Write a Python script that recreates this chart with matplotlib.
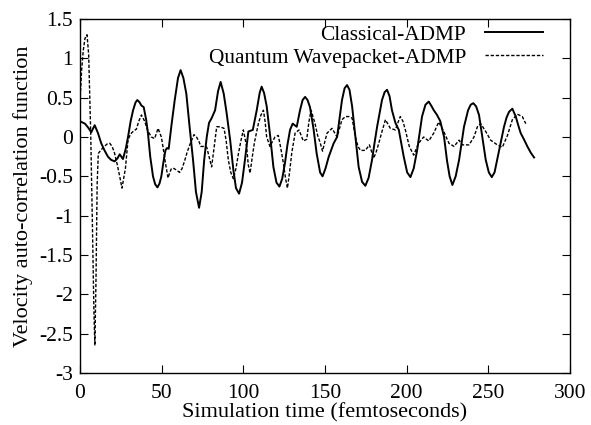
import matplotlib
matplotlib.use("Agg")
import matplotlib.pyplot as plt

plt.rcParams['font.family'] = ['Liberation Serif', 'DejaVu Serif']

# Classical-ADMP (solid)
classical_t = [0, 3, 5, 6.9, 9, 11, 13, 15, 17.1, 19, 21.2, 23, 24.3, 26.3, 28, 29.4, 31, 32.5, 34, 35.1,
               36.5, 37.6, 39, 40.5, 41.6, 43, 44.7, 46, 47.4, 48.7, 49.8, 51, 52.3, 53.3, 54.3, 56, 58, 60,
               61.6, 63.3, 65.1, 67, 69.2, 71, 72.9, 74.5, 76, 77.6, 79, 80.6, 82.7, 84.5, 86.1, 88, 89.8,
               92, 93.9, 95.5, 97.4, 99.2, 101, 103.1, 105.8, 108.2, 110, 111.2, 112.7, 114.3, 116.5, 118.4,
               120.3, 122.1, 123.8, 125.5, 127, 128.6, 130.2, 132.7, 134.7, 136.3, 137.8, 139.3, 140.8, 143,
               144.9, 147, 148.5, 150.3, 152.3, 155.3, 157.4, 159, 160.4, 162, 163.5, 165, 166.6, 168.6,
               170.6, 172.7, 174.7, 176.7, 178.8, 180.3, 181.9, 184.9, 186.5, 188, 189.5, 191, 193.1, 195.2,
               196.7, 198.2, 200.3, 202.3, 204.3, 206.4, 209.4, 211.5, 213.5, 215, 216.6, 218.6, 220.6,
               222.9, 224.7, 226.3, 228, 230, 232.1, 235.1, 237.6, 239.2, 240.8, 242.5, 244.3, 246.3, 248.4,
               250.3, 252.1, 253.8, 255.4, 257.5, 259.6, 261.2, 262.7, 264.7, 266.8, 268.3, 269.8, 271.8,
               273.9, 276, 278]
classical_v = [0.20, 0.17, 0.12, 0.06, 0.15, 0.05, -0.08, -0.17, -0.25, -0.29, -0.31, -0.27, -0.22, -0.28,
               -0.15, 0.0, 0.20, 0.34, 0.44, 0.47, 0.44, 0.40, 0.38, 0.22, 0.05, -0.25, -0.50, -0.60, -0.64,
               -0.59, -0.50, -0.33, -0.17, -0.14, -0.15, 0.15, 0.47, 0.75, 0.85, 0.75, 0.55, 0.15, -0.29,
               -0.70, -0.90, -0.70, -0.30, 0.0, 0.18, 0.24, 0.34, 0.58, 0.70, 0.55, 0.30, -0.05, -0.42,
               -0.65, -0.72, -0.58, -0.29, 0.07, 0.09, 0.34, 0.56, 0.64, 0.56, 0.39, 0.0, -0.38, -0.58,
               -0.63, -0.53, -0.33, -0.10, 0.09, 0.17, 0.13, 0.34, 0.47, 0.51, 0.47, 0.38, 0.10, -0.21,
               -0.45, -0.50, -0.40, -0.25, -0.08, 0.0, 0.25, 0.47, 0.62, 0.66, 0.60, 0.39, 0.0, -0.38,
               -0.57, -0.62, -0.52, -0.29, -0.08, 0.13, 0.47, 0.57, 0.60, 0.52, 0.34, 0.18, 0.09, -0.08,
               -0.25, -0.45, -0.51, -0.40, -0.17, 0.26, 0.41, 0.45, 0.40, 0.34, 0.28, 0.20, 0.0, -0.30,
               -0.50, -0.61, -0.50, -0.29, 0.13, 0.34, 0.41, 0.43, 0.39, 0.28, 0.0, -0.29, -0.45, -0.51,
               -0.45, -0.29, -0.08, 0.13, 0.25, 0.32, 0.36, 0.26, 0.15, 0.05, -0.03, -0.12, -0.20, -0.26]

# Quantum Wavepacket-ADMP (dashed)
quantum_t = [0, 1, 2, 3, 4.3, 5.3, 6.5, 7.5, 8.5, 9.1, 9.8, 10.5, 11.2, 13, 15, 16.5, 18.2, 19.7, 21.2,
             22.8, 24.3, 25.7, 27.8, 29.4, 31, 32.5, 34.5, 36, 37.6, 39.6, 41.5, 43.7, 45.7, 47.8, 49.8, 51,
             52.3, 53.9, 55, 56, 57.5, 59, 61, 62.5, 64.1, 65.5, 67.2, 69.8, 71.3, 72.7, 74, 75.5, 77.6, 79,
             80.6, 82, 83.7, 85.7, 88.2, 89.5, 90.8, 92.3, 93.9, 95.5, 97, 98.5, 100, 102, 103, 104.1, 105.5,
             106.8, 109.2, 110.8, 112.3, 113.3, 114.3, 116.3, 118, 119.4, 121.4, 123, 124.5, 125.8, 127,
             128.3, 129.6, 131.7, 134.1, 136.7, 138.8, 140.2, 141.5, 143.9, 145.5, 147, 148.5, 150, 151.3,
             154.3, 157.4, 160.4, 162.5, 164.5, 166.6, 168.6, 170.2, 171.7, 174.7, 177.2, 179.8, 181.5,
             182.9, 184.9, 187, 190, 193.1, 194.6, 196.1, 197.7, 199.2, 201.6, 204.3, 207.3, 210.4, 213.5,
             216.6, 219.6, 222.7, 225.9, 229, 232.1, 234.1, 238.2, 241.2, 243.3, 245.3, 248.4, 251.4, 255.5,
             258.6, 261.7, 264.7, 267.8, 270.8, 272.9]
quantum_v = [0.45, 0.85, 1.10, 1.25, 1.30, 1.05, 0.10, -1.0, -2.2, -2.65, -1.8, -0.6, -0.21, -0.16, -0.12,
             -0.09, -0.08, -0.12, -0.21, -0.35, -0.50, -0.65, -0.40, -0.04, 0.04, 0.07, 0.10, 0.20, 0.28,
             0.20, 0.08, 0.0, -0.02, 0.11, 0.0, -0.15, -0.33, -0.52, -0.45, -0.40, -0.40, -0.42, -0.45,
             -0.40, -0.30, -0.20, -0.10, 0.03, 0.0, -0.05, -0.12, -0.12, -0.13, -0.25, -0.38, -0.15, 0.13,
             0.13, 0.11, -0.05, -0.29, -0.45, -0.53, -0.40, -0.21, -0.05, 0.09, -0.12, -0.35, -0.46, -0.25,
             -0.07, 0.17, 0.28, 0.34, 0.20, 0.0, -0.12, -0.05, 0.0, 0.02, -0.15, -0.33, -0.52, -0.65, -0.45,
             -0.21, 0.05, 0.09, -0.05, -0.03, 0.20, 0.34, 0.17, 0.02, -0.07, -0.18, -0.05, 0.05, 0.11, 0.0,
             0.22, 0.26, 0.26, 0.24, 0.0, -0.12, -0.17, -0.17, -0.10, -0.27, -0.18, -0.08, 0.07, 0.22, 0.11,
             0.09, 0.18, 0.26, 0.20, 0.09, -0.12, -0.23, -0.08, 0.0, -0.05, 0.05, 0.19, 0.07, -0.08, -0.12,
             -0.04, -0.10, -0.10, 0.0, 0.13, 0.17, 0.07, -0.04, -0.10, -0.13, 0.02, 0.22, 0.29, 0.26, 0.17]

x_ticks = [0, 50, 100, 150, 200, 250, 300]
y_ticks = [-3, -2.5, -2, -1.5, -1, -0.5, 0, 0.5, 1, 1.5]
y_tick_labels = ['-3', '-2.5', '-2', '-1.5', '-1', '-0.5', '0', '0.5', '1', '1.5']

fig = plt.figure(figsize=(5.91, 4.25), dpi=100)
ax = fig.add_axes([80/591, 1 - 373/425, 490/591, 354/425])

ax.plot(classical_t, classical_v, color='black', lw=1.4, label='Classical-ADMP')
ax.plot(quantum_t, quantum_v, color='black', lw=1.0, dashes=(2.4, 1.3), label='Quantum Wavepacket-ADMP')

ax.set_xlim(0, 300)
ax.set_ylim(-3, 1.5)
ax.set_xticks(x_ticks)
ax.set_yticks(y_ticks)
ax.set_yticklabels(y_tick_labels)
ax.tick_params(direction='in', length=6, width=0.8, labelsize=15.5, top=True, right=True)
ax.tick_params(axis='x', pad=8)
ax.tick_params(axis='y', pad=5)
for s in ax.spines.values():
    s.set_linewidth(1.0)

ax.set_xlabel('Simulation time (femtoseconds)', fontsize=16, labelpad=0)
ax.set_ylabel('Velocity auto-correlation function', fontsize=16, labelpad=4)

leg = ax.legend(loc='upper right', bbox_to_anchor=((543 - 80) / 490, (373 - 25) / 354),
                frameon=False, markerfirst=False, fontsize=15.4, handlelength=2.7,
                handletextpad=0.9, borderpad=0, borderaxespad=0, labelspacing=0.12)
for t in leg.get_texts():
    t.set_ha('right')

fig.savefig('out.png', dpi=100)
